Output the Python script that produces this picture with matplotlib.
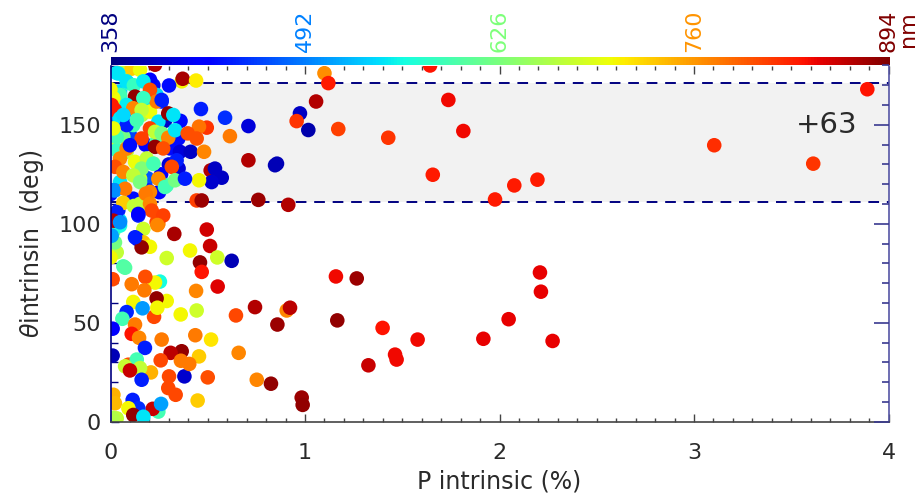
import numpy as np
import matplotlib
matplotlib.use("Agg")
import matplotlib.pyplot as plt
from matplotlib.colors import Normalize

plt.rcParams["font.family"] = ["DejaVu Sans"]
plt.rcParams["mathtext.fontset"] = "dejavusans"

# ---------------------------------------------------------------------------
# Data: intrinsic polarisation (%), angle (deg),
# wavelength (nm) that sets the dot colour
# ---------------------------------------------------------------------------
# points mostly hidden inside the dense cluster (drawn first)
fill_p = [0.30, 0.33, 0.25, 0.28, 0.18, 0.36, 0.07, 0.00, 0.00, 0.22, 0.26,
          0.35, 0.10, 0.19, 0.05, 0.12,
          0.032, 0.049, 0.092, 0.237, 0.263, 0.186, 0.075, 0.032, 0.160, 0.203,
          0.246, 0.349, 0.117, 0.066, 0.023, 0.237, 0.306, 0.357, 0.032, 0.083,
          0.220, 0.152, 0.289, 0.049, 0.023, 0.194, 0.117, 0.152, 0.040, 0.049,
          0.143, 0.246]
fill_theta = [130, 143, 116, 152, 140, 152, 156, 115, 155, 170, 125,
              128, 145, 123, 120, 112,
              176.2, 166.9, 171.1, 165.1, 161.8, 161.8, 160.1, 155.0, 155.0, 156.7,
              151.6, 143.1, 149.9, 144.0, 143.1, 141.5, 138.1, 136.4, 137.2, 136.4,
              130.4, 122.8, 119.4, 121.1, 116.9, 116.9, 112.7, 110.1, 106.7, 101.6,
              104.2, 100.0]
fill_wave = [400, 410, 420, 390, 420, 430, 450, 430, 450, 430, 425,
             400, 460, 470, 480, 460,
             545, 540, 580, 540, 440, 545, 670, 510, 660, 700,
             545, 430, 590, 620, 700, 590, 430, 400, 580, 670,
             660, 670, 590, 545, 500, 440, 430, 670, 440, 545,
             440, 775]

# dense cluster, P < 0.35 %, theta > 100 deg
clus_p = [0.049, 0.075, 0.109, 0.152, 0.040, 0.203, 0.083, 0.120, 0.169, 0.203,
          0.126, 0.237, 0.169, 0.263, 0.049, 0.083, 0.117, 0.015, 0.023, 0.160,
          0.297, 0.323, 0.049, 0.083, 0.135, 0.203, 0.160, 0.229, 0.263, 0.297,
          0.332, 0.032, 0.015, 0.083, 0.126, 0.229, 0.271, 0.340, 0.315, 0.186,
          0.160, 0.220, 0.049, 0.023, 0.066, 0.117, 0.246, 0.280, 0.332, 0.075,
          0.152, 0.203, 0.181, 0.015, 0.066, 0.120, 0.203, 0.212, 0.143, 0.032,
          0.237, 0.271, 0.066, 0.006, 0.000, 0.100]
clus_theta = [176.1, 178.7, 178.4, 177.8, 176.0, 172.8, 172.0, 170.0, 172.0, 167.7,
              164.3, 161.8, 163.5, 162.6, 165.1, 160.1, 158.4, 163.5, 157.5, 157.5,
              155.8, 155.0, 153.3, 149.9, 152.4, 148.2, 143.1, 146.5, 145.7, 143.5,
              147.3, 143.8, 148.2, 138.0, 131.3, 138.9, 138.1, 132.1, 128.8, 133.0,
              127.9, 130.4, 133.0, 128.8, 126.2, 124.5, 122.8, 118.6, 122.0, 117.7,
              121.1, 116.1, 115.2, 117.0, 110.6, 109.0, 110.1, 106.7, 105.0, 105.9,
              100.8, 104.2, 155.0, 160.0, 168.0, 139.7]
clus_wave = [590, 670, 730, 700, 545, 420, 545, 580, 550, 800,
             885, 775, 580, 440, 590, 550, 770, 700, 830, 670,
             885, 545, 545, 440, 590, 810, 810, 670, 620, 770,
             545, 590, 700, 770, 700, 885, 800, 440, 805, 670,
             630, 590, 770, 800, 770, 670, 765, 590, 620, 775,
             625, 770, 775, 500, 730, 670, 770, 805, 420, 440,
             805, 810, 540, 830, 705, 430]

# everything else
rest_p = [1.100, 1.120, 1.643, 1.737, 1.057, 0.974, 0.957, 1.017, 1.171, 1.428,
          1.814, 1.657, 0.709, 0.846, 0.856, 0.760, 0.914, 0.709, 0.589, 0.465,
          0.614, 0.495, 0.455, 0.397, 0.443, 0.412, 0.481, 0.515, 0.537, 0.572,
          0.520, 0.455, 0.383, 0.443, 0.469, 0.366, 0.371, 0.440, 0.301, 0.229,
          1.977, 2.076, 2.195, 3.104, 3.613, 3.891,
          2.208, 2.213, 2.047, 1.917, 2.273,
          0.495, 0.328, 0.512, 0.409, 0.623, 0.549, 0.460, 0.469, 0.289, 0.551,
          1.159, 1.266, 0.743, 0.645, 0.906, 0.923, 0.858, 1.166, 1.399, 1.579,
          1.463, 1.471, 1.326, 0.659, 0.752, 0.825, 0.983, 0.988, 0.448, 0.500,
          0.380, 0.517, 0.455, 0.405, 0.366, 0.309, 0.362, 0.436, 0.443, 0.361,
          0.440, 0.289, 0.237, 0.224, 0.263, 0.258, 0.301, 0.297, 0.335, 0.208,
          0.246, 0.217, 0.260, 0.254, 0.229, 0.179, 0.174, 0.109, 0.117, 0.241,
          0.165, 0.083, 0.061, 0.126, 0.109, 0.147, 0.177, 0.011, 0.011, 0.092,
          0.135, 0.152, 0.075, 0.100, 0.160, 0.015, 0.023, 0.114, 0.143, 0.092,
          0.117, 0.169, 0.032, 0.010, 0.169, 0.241, 0.138, 0.169, 0.203, 0.160,
          0.032, 0.023, 0.015, 0.049, 0.066, 0.075, 0.011, 0.000, 0.126, 0.006,
          0.015, 0.049]
rest_theta = [176.1, 171.1, 180.0, 162.6, 161.8, 155.8, 151.9, 147.4, 147.9, 143.5,
              146.9, 124.8, 132.1, 129.6, 130.4, 112.1, 109.6, 149.4, 153.6, 158.0,
              144.3, 148.6, 149.1, 145.7, 143.1, 136.4, 136.4, 127.0, 127.9, 123.3,
              121.1, 122.0, 122.8, 111.8, 111.8, 172.0, 173.3, 172.4, 169.9, 180.4,
              112.3, 119.4, 122.3, 139.7, 130.4, 168.0,
              75.4, 65.7, 51.8, 41.9, 40.8,
              97.1, 94.9, 88.8, 86.5, 81.3, 83.0, 80.5, 75.7, 82.7, 68.3,
              73.4, 72.4, 57.9, 53.7, 56.2, 57.6, 49.1, 51.2, 47.4, 41.5,
              33.9, 31.4, 28.5, 34.8, 21.2, 19.2, 12.2, 8.5, 10.7, 22.4,
              22.9, 41.5, 33.0, 29.2, 35.6, 34.8, 30.8, 43.7, 56.2, 54.2,
              66.1, 61.0, 62.3, 53.0, 41.5, 31.0, 22.9, 17.0, 13.6, 24.9,
              5.1, 6.5, 9.0, 70.8, 70.3, 73.2, 66.4, 69.5, 60.5, 57.6,
              57.3, 55.4, 52.0, 49.1, 44.4, 42.4, 37.3, 47.0, 33.4, 28.8,
              31.4, 27.1, 28.0, 25.9, 21.2, 13.6, 9.3, 11.0, 6.8, 6.8,
              3.4, 2.5, 1.7, 2.0, 97.4, 99.4, 92.3, 90.6, 88.4, 88.1,
              85.6, 90.6, 96.2, 99.1, 78.5, 77.8, 72.0, 83.0, 93.2, 94.0,
              101.6, 100.8]
rest_wave = [765, 830, 835, 840, 870, 390, 815, 380, 810, 815,
             840, 830, 870, 385, 385, 880, 870, 400, 450, 440,
             775, 815, 780, 800, 800, 390, 770, 870, 390, 390,
             395, 705, 440, 810, 880, 705, 875, 710, 430, 870,
             830, 830, 830, 820, 815, 835,
             845, 845, 845, 845, 845,
             855, 875, 860, 705, 385, 680, 885, 835, 680, 850,
             840, 880, 870, 805, 770, 865, 880, 885, 835, 840,
             840, 840, 860, 770, 770, 885, 880, 885, 730, 800,
             395, 715, 730, 775, 885, 865, 775, 775, 680, 705,
             770, 705, 885, 805, 775, 805, 805, 805, 805, 745,
             590, 860, 510, 560, 705, 800, 775, 775, 705, 705,
             505, 445, 590, 775, 835, 770, 440, 420, 385, 800,
             590, 670, 675, 860, 440, 745, 740, 440, 450, 705,
             885, 545, 670, 660, 680, 770, 430, 735, 705, 885,
             670, 620, 610, 560, 595, 600, 805, 705, 440, 510,
             870, 500]

WAVE_MIN, WAVE_MAX = 358, 894
cbar_ticks = [358, 492, 626, 760, 894]
band_lo, band_hi = 111, 171
band_text = "+63"

p_all = fill_p + clus_p + rest_p
theta_all = fill_theta + clus_theta + rest_theta
wave_all = fill_wave + clus_wave + rest_wave

# ---------------------------------------------------------------------------
# Figure
# ---------------------------------------------------------------------------
W, H = 922, 497
FS = 16
TXT = "#2a2a2a"
fig = plt.figure(figsize=(W / 100, H / 100), dpi=100)
x0, x1 = 110.5 / W, 888.5 / W
ybot, ytop = 1 - 421.7 / H, 1 - 65.5 / H
ax = fig.add_axes([x0, ybot, x1 - x0, ytop - ybot])
cax = fig.add_axes([x0, ytop, x1 - x0, 8.5 / H])

cmap = plt.get_cmap("jet")
norm = Normalize(WAVE_MIN, WAVE_MAX)

ax.axhspan(band_lo, band_hi, color="#f2f2f2", zorder=0, lw=0)
for yy in (band_lo, band_hi):
    ax.axhline(yy, color="#000080", lw=1.4, ls=(0, (5.5, 4)), zorder=1)

ax.scatter(p_all, theta_all, c=wave_all, cmap=cmap, norm=norm,
           s=110, edgecolors="none", zorder=2)

ax.text(3.68, 150, band_text, fontsize=21, ha="center", va="center",
        color=TXT)

ax.set_xlim(0, 4)
ax.set_ylim(0, 180)
ax.set_xticks([0, 1, 2, 3, 4])
ax.set_xticks(np.arange(0, 4.01, 0.1), minor=True)
ax.set_yticks([0, 50, 100, 150])
ax.set_yticks(np.arange(0, 181, 10), minor=True)

ax.tick_params(axis="x", which="both", direction="in", top=True,
               color="#444444", labelsize=FS, labelcolor=TXT, pad=15)
ax.tick_params(axis="x", which="major", length=5.5, width=1)
ax.tick_params(axis="x", which="minor", length=3, width=1)
ax.tick_params(axis="y", which="both", direction="in", right=False,
               color="#000080", labelsize=FS, labelcolor=TXT, pad=7)
ax.tick_params(axis="y", which="major", length=6, width=1)
ax.tick_params(axis="y", which="minor", length=5, width=1)

ax.spines["left"].set_color("#000080")
ax.spines["right"].set_color("#5555a5")
ax.spines["bottom"].set_color("#444444")
ax.spines["top"].set_visible(False)
for sp in ax.spines.values():
    sp.set_linewidth(1.2)

# right-hand ticks are longer and a lighter blue
axr = ax.twinx()
axr.set_ylim(0, 180)
axr.set_yticks([0, 50, 100, 150])
axr.set_yticks(np.arange(0, 181, 10), minor=True)
axr.tick_params(axis="y", which="both", direction="in", color="#3a3a90",
                labelright=False)
axr.tick_params(axis="y", which="major", length=11, width=1.2)
axr.tick_params(axis="y", which="minor", length=5, width=1.2)
for sp in axr.spines.values():
    sp.set_visible(False)

ax.set_xlabel("P intrinsic (%)", fontsize=17, color=TXT, labelpad=5)
ax.set_ylabel(r"$\theta$intrinsin  (deg)", fontsize=17, color=TXT,
              labelpad=9)

# colour bar across the top
grad = np.linspace(0, 1, 512).reshape(1, -1)
cax.imshow(grad, aspect="auto", cmap=cmap, extent=[0, 1, 0, 1])
cax.set_xlim(0, 1)
cax.set_axis_off()
for wv in cbar_ticks:
    frac = (wv - WAVE_MIN) / (WAVE_MAX - WAVE_MIN)
    cax.text(frac, 1.0 + 4.5 / 8.5, str(wv), transform=cax.transAxes,
             rotation=90, ha="center", va="bottom", fontsize=FS,
             color=cmap(norm(wv)))
fig.text(908 / W, 1 - 47 / H, "nm", rotation=90, ha="center", va="bottom",
         fontsize=FS, color=cmap(1.0))

fig.savefig("out.png", dpi=100)
